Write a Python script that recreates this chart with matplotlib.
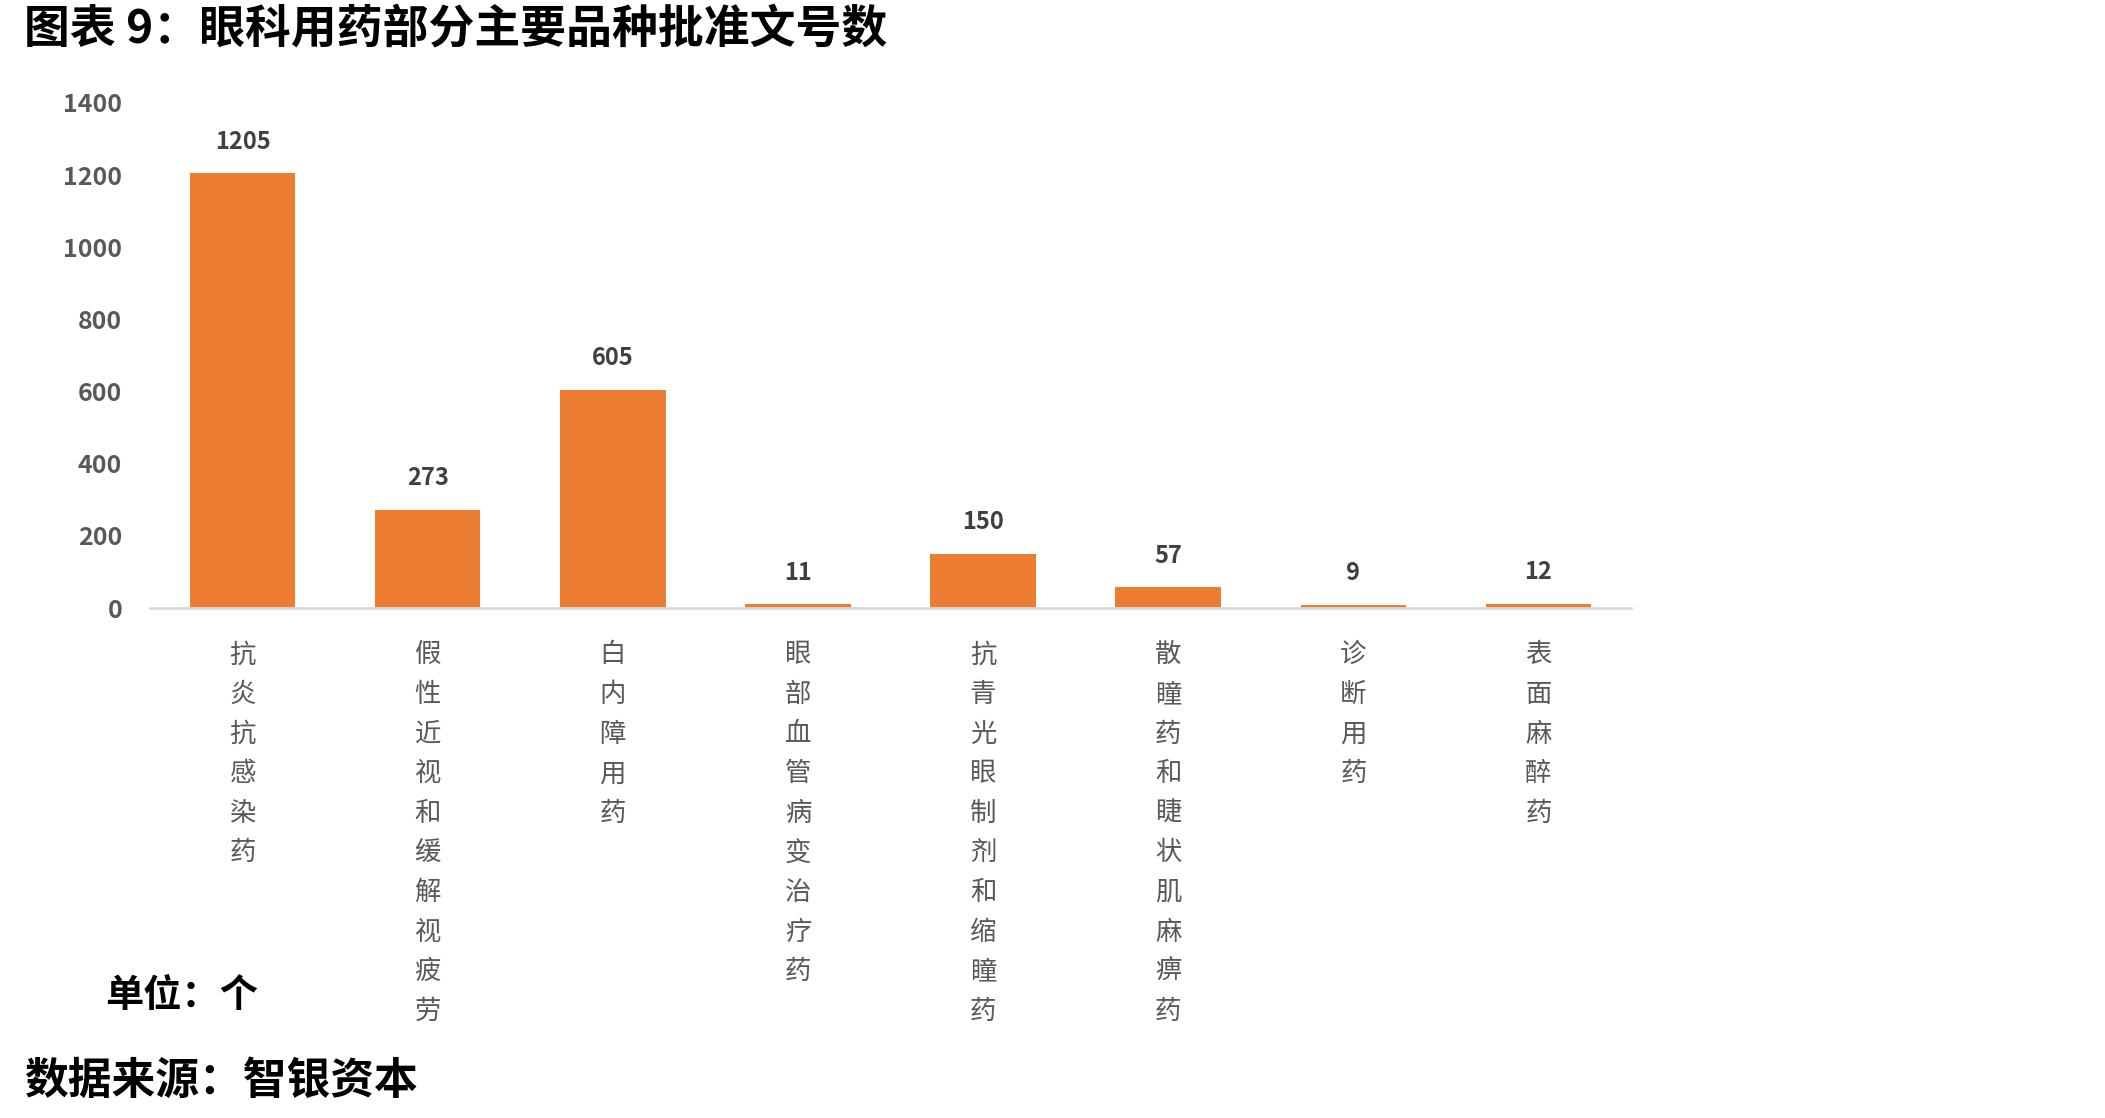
import matplotlib
matplotlib.use("Agg")
import matplotlib.pyplot as plt

plt.rcParams['font.family'] = ['Noto Sans CJK SC', 'DejaVu Sans']

# data
categories = ["抗炎抗感染药", "假性近视和缓解视疲劳", "白内障用药", "眼部血管病变治疗药",
              "抗青光眼制剂和缩瞳药", "散瞳药和睫状肌麻痹药", "诊断用药", "表面麻醉药"]
counts = [1205, 273, 605, 11, 150, 57, 9, 12]
y_ticks = [0, 200, 400, 600, 800, 1000, 1200, 1400]

fig = plt.figure(figsize=(21.05, 11.18), dpi=100)
ax = fig.add_axes([150 / 2105, 1 - 608 / 1118, 1481 / 2105, 505 / 1118])

x = list(range(len(categories)))
bars = ax.bar(x, counts, width=0.57, color="#ED7D31", zorder=2)
ax.bar_label(bars, padding=14, fontsize=17, fontweight="bold", color="#404040")

ax.set_xlim(-0.5, len(categories) - 0.5)
ax.set_ylim(0, 1400)
ax.set_yticks(y_ticks)
ax.set_yticklabels([str(v) for v in y_ticks], fontsize=18, fontweight="bold", color="#595959")
ax.set_xticks(x)
ax.set_xticklabels(["\n".join(c) for c in categories], fontsize=19, color="#595959",
                   linespacing=1.6, va="top")
ax.tick_params(axis="both", length=0)
ax.tick_params(axis="y", pad=20)
ax.tick_params(axis="x", pad=24)

for side in ["top", "right", "left"]:
    ax.spines[side].set_visible(False)
ax.spines["bottom"].set_color("#d9d9d9")
ax.spines["bottom"].set_linewidth(2)

fig.text(24 / 2105, 1 - 30 / 1118, "图表 9：眼科用药部分主要品种批准文号数", fontsize=33,
         fontweight="bold", color="black", ha="left", va="center")
fig.text(105 / 2105, 1 - 995 / 1118, "单位：个", fontsize=27.5, fontweight="bold",
         color="black", ha="left", va="center")
fig.text(24 / 2105, 1 - 1081 / 1118, "数据来源：智银资本", fontsize=31.5, fontweight="bold",
         color="black", ha="left", va="center")

fig.savefig("out.png", dpi=100)
